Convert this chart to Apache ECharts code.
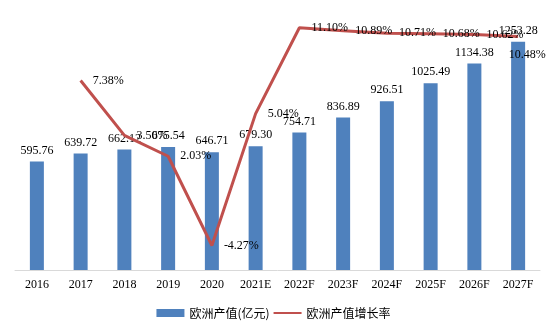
<!DOCTYPE html>
<html><head><meta charset="utf-8">
<script src="https://cdn.jsdelivr.net/npm/echarts@6/dist/echarts.min.js"></script>
<style>html,body{margin:0;padding:0;background:#fff}#c{width:547px;height:329px}</style>
</head><body><div id="c"></div>
<script>
const categories = ['2016','2017','2018','2019','2020','2021E','2022F','2023F','2024F','2025F','2026F','2027F'];
const outputValues = [595.76,639.72,662.12,675.54,646.71,679.30,754.71,836.89,926.51,1025.49,1134.38,1253.28];
const growthRates = [null,7.38,3.50,2.03,-4.27,5.04,11.10,10.89,10.71,10.68,10.62,10.48];
const seriesNames = ['欧洲产值(亿元)','欧洲产值增长率'];

const serif = '"Liberation Serif","DejaVu Serif",serif';
const chart = echarts.init(document.getElementById('c'), null, {renderer:'canvas'});
const lineData = growthRates.map((v,i)=> i===growthRates.length-1
  ? {value:v, label:{position:'bottom', offset:[9,0]}} : v);
chart.setOption({
  animation:false,
  backgroundColor:'#fff',
  grid:{left:15,right:7,top:15,bottom:59,containLabel:false},
  legend:{
    bottom:5, left:'center', itemGap:3, itemWidth:28, itemHeight:8,
    textStyle:{fontFamily:'"Noto Sans CJK SC",sans-serif',fontSize:12,color:'#000'},
    data:[{name:seriesNames[0],icon:'rect'},{name:seriesNames[1],itemStyle:{opacity:0}}]
  },
  xAxis:{type:'category',data:categories,
    axisLine:{lineStyle:{color:'#d9d9d9',width:1}},axisTick:{show:false},
    axisLabel:{color:'#000',fontFamily:serif,fontSize:12,margin:9,interval:0}},
  yAxis:[
    {type:'value',min:0,max:1400,show:false,splitLine:{show:false}},
    {type:'value',min:-6,max:12,show:false,splitLine:{show:false}}
  ],
  series:[
    {name:seriesNames[0],type:'bar',data:outputValues,barWidth:14,
     itemStyle:{color:'#4f81bd'},
     label:{show:true,position:'top',distance:5,color:'#000',fontFamily:serif,fontSize:12,
       formatter:p=>p.value.toFixed(2)}},
    {name:seriesNames[1],type:'line',yAxisIndex:1,data:lineData,symbol:'circle',symbolSize:0,
     showSymbol:true,connectNulls:false,z:3,
     lineStyle:{color:'#c0504d',width:3},itemStyle:{color:'#c0504d'},
     label:{show:true,position:'right',distance:12,color:'#000',fontFamily:serif,fontSize:12,
       formatter:p=>p.value.toFixed(2)+'%'}}
  ]
});
</script></body></html>
